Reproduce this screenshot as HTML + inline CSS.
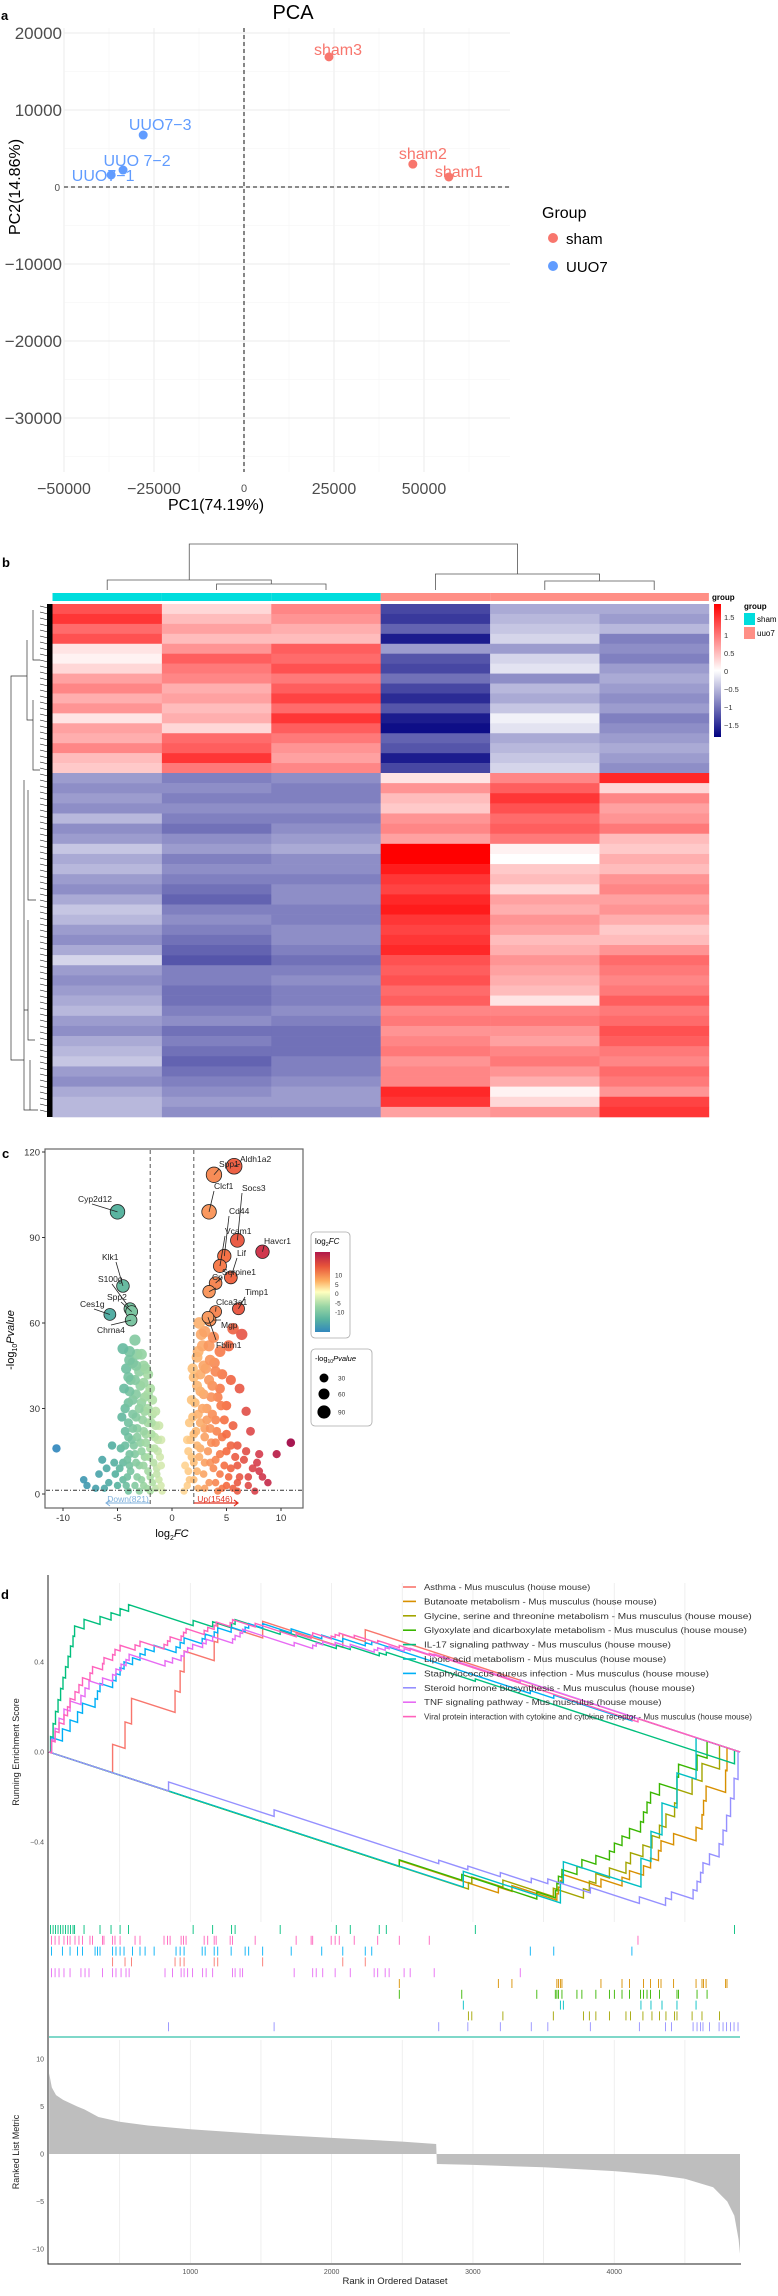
<!DOCTYPE html>
<html><head><meta charset="utf-8">
<style>
html,body{margin:0;padding:0;background:#fff;}
svg{display:block;font-family:"Liberation Sans",sans-serif;}
</style></head>
<body>
<svg id="fig" xmlns="http://www.w3.org/2000/svg" width="778" height="2296" viewBox="0 0 778 2296">
<rect x="0" y="0" width="778" height="2296" fill="#fff"/>
<text x="1" y="20" font-size="13" font-weight="bold">a</text>
<text x="2" y="567" font-size="13" font-weight="bold">b</text>
<text x="2" y="1158" font-size="13" font-weight="bold">c</text>
<text x="1" y="1599" font-size="13" font-weight="bold">d</text>
<g id="pca"></g>
<g id="heat"></g>
<g id="volc"></g>
<g id="gsea"></g>
</svg>
<script>
// ================= PCA data =================
const pcaSamples = ["sham3","sham2","sham1","UUO7-3","UUO 7-2","UUO7-1"];
const pcaPC1 = [23600, 46900, 56900, -28000, -33600, -36900];
const pcaPC2 = [16900, 2970, 1300, 6750, 2200, 1560];
const pcaGroup = ["sham","sham","sham","UUO7","UUO7","UUO7"];
const pcaXTicks = [-50000,-25000,0,25000,50000];
const pcaYTicks = [20000,10000,0,-10000,-20000,-30000];

// ================= Heatmap data =================
const heatCols = ["sham-a","sham-b","sham-c","uuo7-a","uuo7-b","uuo7-c"];
const heatColGroup = ["sham","sham","sham","uuo7","uuo7","uuo7"];
const heatTopC1 = [1.3,1.5,1.1,1.3,0.2,0.1,0.3,0.7,0.9,0.6,0.8,0.2,0.7,0.6,0.9,0.5,0.4];
const heatTopC2 = [0.3,0.5,0.7,0.5,0.8,1.2,1.0,0.9,0.6,0.7,0.5,0.6,0.3,1.1,1.2,1.5,1.0];
const heatTopC3 = [0.9,0.8,0.6,0.5,1.2,1.1,1.3,1.0,1.2,1.4,1.1,1.5,1.2,1.0,0.8,0.7,0.9];
const heatTopC4 = [-1.3,-1.4,-1.1,-1.6,-0.7,-1.2,-1.3,-1.0,-1.3,-1.5,-1.2,-1.6,-1.7,-1.1,-1.2,-1.6,-1.3];
const heatTopC5 = [-0.6,-0.5,-0.4,-0.3,-0.7,-0.3,-0.2,-0.8,-0.5,-0.6,-0.4,-0.1,-0.2,-0.6,-0.5,-0.4,-0.3];
const heatTopC6 = [-0.6,-0.7,-0.5,-0.9,-0.8,-0.9,-0.7,-0.6,-0.7,-0.8,-0.7,-0.9,-0.8,-0.7,-0.6,-0.7,-0.8];
const heatBotC1 = [-0.7,-0.8,-0.7,-0.8,-0.5,-0.8,-0.7,-0.4,-0.6,-0.5,-0.7,-0.8,-0.6,-0.4,-0.5,-0.7,-0.8,-0.6,-0.3,-0.7,-0.8,-0.7,-0.6,-0.5,-0.7,-0.8,-0.6,-0.5,-0.4,-0.7,-0.8,-0.6,-0.5,-0.5];
const heatBotC2 = [-0.9,-0.8,-0.9,-0.8,-0.9,-1.0,-0.8,-0.7,-0.9,-0.8,-0.9,-1.0,-1.1,-0.9,-0.8,-0.9,-1.0,-1.1,-1.2,-0.9,-0.9,-1.0,-1.0,-0.9,-0.8,-1.0,-0.9,-1.0,-1.1,-1.0,-0.9,-0.8,-0.7,-0.8];
const heatBotC3 = [-0.8,-0.9,-0.9,-0.8,-0.9,-0.8,-0.7,-0.6,-0.8,-0.8,-0.9,-0.8,-0.8,-0.9,-0.9,-0.8,-0.8,-0.9,-1.0,-0.9,-0.8,-0.9,-0.9,-0.8,-0.9,-1.0,-1.0,-1.0,-0.9,-0.9,-0.8,-0.7,-0.7,-0.8];
const heatBotC4 = [0.2,0.8,0.5,0.4,0.8,0.9,0.7,1.9,1.9,1.7,1.5,1.4,1.6,1.7,1.5,1.4,1.5,1.6,1.3,1.2,1.3,1.1,1.2,0.9,1.0,0.8,0.9,1.0,0.8,0.9,0.9,1.6,1.5,0.7];
const heatBotC5 = [0.9,1.2,1.5,1.3,1.1,1.2,1.0,0.1,0.0,0.4,0.5,0.3,0.7,0.6,0.8,0.7,0.5,0.6,0.8,0.7,0.6,0.5,0.2,0.9,1.0,0.8,0.7,0.9,1.0,0.8,0.6,0.1,0.3,0.8];
const heatBotC6 = [1.6,0.3,0.9,0.7,0.8,1.0,0.5,0.4,0.6,0.5,0.8,0.9,0.7,0.8,0.6,0.4,0.5,0.8,1.1,1.0,0.9,1.0,1.2,1.0,1.1,1.3,1.2,1.0,0.9,1.1,1.0,0.8,1.4,1.5];
const heatLegendTicks = [1.5,1,0.5,0,-0.5,-1,-1.5];

// ================= Volcano data =================
const volcLabelGenes = ["Aldh1a2","Spp1","Clcf1","Socs3","Havcr1","Cd44","Vcam1","Lif","Serpine1","Ccl2","Timp1","Clca3a1","Mgp","Fblim1","Cyp2d12","Klk1","S100g","Spp2","Ces1g","Chrna4"];
const volcLabelFC = [5.7,3.85,3.4,6.0,8.3,4.8,4.4,5.4,4.0,3.4,6.1,4.0,3.5,3.3,-5.0,-4.5,-3.85,-3.7,-5.7,-3.75];
const volcLabelP = [115,112,99,89,85,83.5,80,76,74,71,65,64,61,62,99,73,65,64,63,61];
const volcCloudFC = [-4.5,-3.4,-3.9,-3.2,-2.8,-3.6,-2.6,-4.2,-3.0,-2.2,-3.8,-2.9,-2.0,-4.4,-3.3,-2.5,-1.8,-4.0,-3.0,-2.2,-1.5,-3.6,-4.6,-2.7,-1.9,-1.2,-3.2,-4.3,-2.4,-1.6,-1.0,-3.7,-2.9,-4.7,-2.0,-1.3,-3.4,-2.5,-4.1,-1.7,-1.0,-3.0,-2.2,-3.8,-5.2,-1.4,-2.8,-4.5,-1.8,-1.0,-3.4,-2.3,-5.8,-6.4,-8.1,-7.8,-5.5,-10.6,-6.7,-0.9,-4.0,
 3.0,2.5,3.8,2.8,4.4,2.3,3.5,5.6,6.4,5.2,3.1,4.6,2.0,5.4,3.7,6.2,2.6,4.2,1.8,5.0,3.2,6.8,2.4,4.0,1.6,5.6,3.0,7.2,2.0,4.6,1.4,3.6,6.0,2.6,5.0,8.0,1.8,4.0,6.6,3.0,1.2,5.4,7.4,2.3,4.4,6.2,8.3,1.6,3.4,5.0,7.0,2.4,1.1,4.2,6.0,9.6,10.9,7.8,8.8];
const volcCloudP = [51,54,50,49,49,46,45,44,43,42,40,38,37,37,35,34,33,32,30,30,29,28,27,26,25,24,23,22,21,20,19,19,18,16,16,15,14,13,12,11,10,10,8,8,7,7,5,5,4,3,3,2,4,12,5,3,17,16,7,1,1,
 57,60,55,52,50,48,47,58,56,52,44,42,41,40,38,37,36,34,33,31,30,29,28,26,25,24,23,22,21,20,19,18,17,16,15,14,13,12,12,11,10,9,9,8,7,6,6,5,4,3,3,2,1,1,1,14,18,11,4];
const volcCloud2FC = [-3.9,-3.3,-2.4,-4.0,-3.4,-2.6,-3.9,-2.2,-3.6,-2.8,-4.3,-2.5,-1.8,-3.3,-4.0,-2.2,-1.5,-3.6,-2.6,-1.9,-4.0,-3.2,-1.3,-2.4,-3.5,-4.3,-1.6,-2.8,-3.9,-1.1,-2.1,-4.5,-3.3,-2.6,-1.4,-3.9,-4.8,-2.0,-3.2,-4.1,-1.2,-5.0,-2.6,-4.2,-1.5,-3.0,-2.0,-6.0,-5.3,-7.0,-6.2,
 2.7,3.4,2.4,3.9,2.9,1.9,4.0,2.6,3.4,2.3,4.4,2.9,3.6,2.1,4.5,2.8,3.7,1.9,3.2,4.8,2.6,3.5,2.2,4.1,5.0,3.0,1.7,4.0,2.3,5.4,3.3,1.5,4.4,2.5,5.8,3.5,2.0,4.8,6.0,3.8,1.5,2.9,5.2,7.0,2.0,4.0,6.0,1.4,3.0,4.6,5.6,7.6,8.0,6.8];
const volcCloud2P = [47,45,44,41,40,39,36,35,33,32,30,29,28,27,25,25,24,23,22,21,20,20,19,18,17,17,16,15,14,13,13,11,11,10,9,10,9,6,6,6,5,3,3,3,2,1,1,9,11,2,2,
 56,52,50,46,45,44,43,42,40,38,37,35,34,32,31,30,28,27,26,26,25,23,22,22,21,20,19,18,17,17,15,15,14,13,13,11,11,10,10,9,8,7,6,6,5,4,4,3,2,2,2,1,8,15];
const volcXTicks = [-10,-5,0,5,10];
const volcYTicks = [0,30,60,90,120];
const volcSizeLegend = [30,60,90];
const volcColorLegend = [10,5,0,-5,-10];

// ================= GSEA data =================
const gseaSetNames = ["Asthma - Mus musculus (house mouse)","Butanoate metabolism - Mus musculus (house mouse)","Glycine, serine and threonine metabolism - Mus musculus (house mouse)","Glyoxylate and dicarboxylate metabolism - Mus musculus (house mouse)","IL-17 signaling pathway - Mus musculus (house mouse)","Lipoic acid metabolism - Mus musculus (house mouse)","Staphylococcus aureus infection - Mus musculus (house mouse)","Steroid hormone biosynthesis - Mus musculus (house mouse)","TNF signaling pathway - Mus musculus (house mouse)","Viral protein interaction with cytokine and cytokine receptor - Mus musculus (house mouse)"];
const gseaColors = ["#F8766D","#D89000","#A3A500","#39B600","#00BF7D","#00BFC4","#00B0F6","#9590FF","#E76BF3","#FF62BC"];
const hitsAsthma = [450,538,584,892,928,956,1169,1194,1512,2079,2238];
const hitsButanoate = [2479,3180,3276,3594,3605,3619,3630,3906,4055,4108,4207,4257,4313,4331,4420,4579,4621,4632,4650,4788,4798];
const hitsGlycine = [2968,2992,3212,3569,3782,3824,3870,3966,4083,4115,4203,4267,4320,4366,4427,4444,4551,4621,4745];
const hitsGlyoxylate = [2479,2921,3452,3583,3594,3605,3630,3736,3771,3870,3966,4001,4055,4108,4186,4207,4232,4257,4320,4444,4455,4586,4657];
const hitsIL17 = [11,29,46,64,82,99,117,135,152,170,181,248,361,439,503,563,1020,1158,1292,1317,1636,2033,2132,2337,2387,3017,4851];
const hitsLipoic = [2932,3619,3640,4189,4260,4338,4444,4579];
const hitsStaph = [18,95,149,202,237,326,343,361,450,474,503,531,591,644,680,744,899,928,956,1084,1105,1169,1194,1289,1388,1413,1512,1714,1930,2079,2238,2284,3406,3572,4125];
const hitsSteroid = [846,1593,2758,2964,3194,3413,3530,3831,4178,4363,4405,4558,4586,4611,4628,4674,4742,4770,4795,4823,4848,4876];
const hitsTNF = [18,43,71,106,149,226,255,283,379,450,474,510,545,567,821,874,935,956,981,1016,1087,1112,1158,1299,1317,1352,1370,1735,1866,1891,1937,2025,2132,2301,2326,2379,2407,2513,2556,2726,3335];
const hitsViral = [18,43,71,106,131,149,184,212,237,290,308,379,389,450,467,503,609,644,814,839,857,935,952,970,1098,1123,1169,1183,1282,1299,1459,1749,1855,1866,1997,2025,2054,2160,2326,2479,2691,4168];
const gseaTickRowOrder = [4,9,6,0,8,1,3,5,2,7];
const metricRanks = [1,20,50,100,200,250,350,500,700,1000,1500,2000,2500,2740,2745,3000,3500,4000,4300,4500,4700,4800,4850,4880,4890];
const metricValues = [8.5,7,6.2,5.7,5,4.7,3.9,3.4,3.0,2.6,2.1,1.7,1.3,1.05,-1.05,-1.15,-1.4,-1.8,-2.2,-2.6,-3.5,-5,-6.5,-9,-10.5];
const gseaNGenes = 4890;
const esTicks = [0.4,0.0,-0.4];
const metricTicks = [10,5,0,-5,-10];
const rankTicks = [1000,2000,3000,4000];
const rankGrid = [500,1000,1500,2000,2500,3000,3500,4000,4500];

const NS="http://www.w3.org/2000/svg";
function mk(parent, tag, attrs, txt){
  const e=document.createElementNS(NS,tag);
  for(const k in attrs) e.setAttribute(k,attrs[k]);
  if(txt!==undefined) e.textContent=txt;
  parent.appendChild(e);
  return e;
}

// ================= PCA =================
(function(){
  const g=document.getElementById('pca');
  const xS=v=>244+v*90/25000, yS=v=>187-v*77/10000;
  const L=64,R=510,T=28,B=472;
  for(let v=-50000; v<=62500; v+=12500){
    const l=mk(g,'line',{x1:xS(v),x2:xS(v),y1:T,y2:B,stroke:v%25000===0?'#ebebeb':'#f4f4f4','stroke-width':v%25000===0?1:0.6});
    
    
  }
  for(let v=-35000; v<=25000; v+=5000){
    const l=mk(g,'line',{x1:L,x2:R,y1:yS(v),y2:yS(v),stroke:v%10000===0?'#ebebeb':'#f4f4f4','stroke-width':v%10000===0?1:0.6});
    
    
  }
  let d=mk(g,'line',{x1:xS(0),x2:xS(0),y1:T,y2:B,stroke:'#444','stroke-width':1.3,'stroke-dasharray':'4,3'});
  
  
  d=mk(g,'line',{x1:L,x2:R,y1:yS(0),y2:yS(0),stroke:'#444','stroke-width':1.3,'stroke-dasharray':'4,3'});
  
  
  pcaXTicks.forEach(v=>{
    const t=mk(g,'text',{x:xS(v),y:v===0?492:494,'font-size':v===0?11:16,'text-anchor':'middle',fill:'#4d4d4d'},v===0?'0':String(v).replace('-','\u2212'));
    
    
  });
  pcaYTicks.forEach(v=>{
    const t=mk(g,'text',{x:v===0?60:62,y:yS(v)+(v===0?4:6),'font-size':v===0?10:17,'text-anchor':'end',fill:'#4d4d4d'},String(v).replace('-','\u2212'));
    
    
  });
  let t=mk(g,'text',{x:293,y:19,'font-size':20,'text-anchor':'middle'},'PCA');
  
  
  t=mk(g,'text',{x:216,y:510,'font-size':16,'text-anchor':'middle'},'PC1(74.19%)');
  
  
  t=mk(g,'text',{x:20,y:187,'font-size':16,'text-anchor':'middle',transform:'rotate(-90 20 187)'},'PC2(14.86%)');
  
  
  const col={sham:'#F8766D',UUO7:'#619CFF'};
  const lblOff=[[9,-2],[10,-5],[10,0],[17,-5],[14,-4],[-8,6]];
  pcaSamples.forEach((s,i)=>{
    const c=mk(g,'circle',{cx:xS(pcaPC1[i]),cy:yS(pcaPC2[i]),r:4.5,fill:col[pcaGroup[i]]});
    
    
    const tt=mk(g,'text',{x:xS(pcaPC1[i])+lblOff[i][0],y:yS(pcaPC2[i])+lblOff[i][1],'font-size':16,'text-anchor':'middle',fill:col[pcaGroup[i]]},s.replace('-','\u2212'));
    
    
  });
  t=mk(g,'text',{x:542,y:218,'font-size':16},'Group');
  
  
  [['sham',238],['UUO7',266]].forEach(([k,y])=>{
    const c=mk(g,'circle',{cx:553,cy:y,r:5,fill:col[k]});
    
    
    const tx=mk(g,'text',{x:566,y:y+6,'font-size':15},k);
    
    
  });
})();

// ================= Heatmap =================
(function(){
  const g=document.getElementById('heat');
  const X0=52.5, CW=109.4, T=604, S=773, B=1117;
  function hcol(v){
    const lerp=(a,b,t)=>Math.round(a+(b-a)*t);
    if(v>=0){const t=Math.min(v/1.9,1);return `rgb(255,${lerp(255,0,t)},${lerp(255,0,t)})`;}
    const t=Math.min(-v/1.8,1);return `rgb(${lerp(255,0,t)},${lerp(255,0,t)},${lerp(255,128,t)})`;
  }
  const tops=[heatTopC1,heatTopC2,heatTopC3,heatTopC4,heatTopC5,heatTopC6];
  const bots=[heatBotC1,heatBotC2,heatBotC3,heatBotC4,heatBotC5,heatBotC6];
  tops.forEach((arr,ci)=>{
    const h=(S-T)/arr.length;
    arr.forEach((v,ri)=>{
      const r=mk(g,'rect',{x:X0+ci*CW,y:T+ri*h,width:CW+0.3,height:h+0.3,fill:hcol(v)});
      
      
    });
  });
  bots.forEach((arr,ci)=>{
    const h=(B-S)/arr.length;
    arr.forEach((v,ri)=>{
      const r=mk(g,'rect',{x:X0+ci*CW,y:S+ri*h,width:CW+0.3,height:h+0.3,fill:hcol(v)});
      
      
    });
  });
  heatCols.forEach((c,ci)=>{
    const r=mk(g,'rect',{x:X0+ci*CW,y:593,width:CW,height:8,fill:heatColGroup[ci]==='sham'?'#00DDDD':'#FF8F86'});
    
    
  });
  const cx=i=>X0+CW*(i+0.5);
  const dpath=`M${cx(1)},590 V584 H${cx(2)} V590 M${cx(0)},590 V580 H${(cx(1)+cx(2))/2} V584 M${cx(4)},590 V581 H${cx(5)} V590 M${cx(3)},590 V574 H${(cx(4)+cx(5))/2} V581 M${(cx(0)+(cx(1)+cx(2))/2)/2},580 V544 H${(cx(3)+(cx(4)+cx(5))/2)/2} V574`;
  let p=mk(g,'path',{d:dpath,fill:'none',stroke:'#555','stroke-width':0.8});
  
  
  let rd='M11,800 V676 H27 M11,800 V1060 H24 M27,640 V720 H33 M24,990 V1110 H30 M24,780 V1010 H28 M33,610 V660 H40 M33,700 V770 H40 M28,790 V900 H36 M28,920 V1040 H35 M30,1060 V1110 H38';
  p=mk(g,'path',{d:rd,fill:'none',stroke:'#333','stroke-width':0.7});
  
  
  for(let y=606;y<1116;y+=6){
    const l=mk(g,'line',{x1:40,x2:52,y1:y,y2:y+3,stroke:'#000','stroke-width':0.6});
    
    
  }
  p=mk(g,'rect',{x:47,y:604,width:5.5,height:513,fill:'#000'});
  
  
  const defs=mk(g,'defs',{});
  const lg=mk(defs,'linearGradient',{id:'hg',x1:0,y1:0,x2:0,y2:1});
  mk(lg,'stop',{offset:'0','stop-color':'#ff0000'});
  mk(lg,'stop',{offset:'0.5','stop-color':'#ffffff'});
  mk(lg,'stop',{offset:'1','stop-color':'#000080'});
  let r=mk(g,'rect',{x:714,y:604,width:7,height:133,fill:'url(#hg)'});
  
  
  let t=mk(g,'text',{x:712,y:600,'font-size':8,'font-weight':'bold'},'group');
  
  
  heatLegendTicks.forEach(v=>{
    const tt=mk(g,'text',{x:724,y:671-v*36+3,'font-size':7.5,fill:'#333'},String(v).replace('-','\u2212'));
    
    
  });
  t=mk(g,'text',{x:744,y:609,'font-size':8,'font-weight':'bold'},'group');
  
  
  [['sham','#00DDDD',613],['uuo7','#FF8F86',627]].forEach(([k,c,y])=>{
    const rr=mk(g,'rect',{x:744,y:y,width:11,height:12,fill:c});
    
    
    const tt=mk(g,'text',{x:757,y:y+9,'font-size':8},k);
    
    
  });
})();

// ================= Volcano =================
(function(){
  const g=document.getElementById('volc');
  const xS=v=>172+v*10.9, yS=v=>1494-v*2.85;
  const rS=p=>3.6+p*0.037;
  function vcol(fc){
    const stops=[[-10,[50,136,189]],[-5,[90,180,160]],[-2,[171,221,164]],[0,[255,245,190]],[2,[253,190,120]],[5,[244,109,67]],[8,[213,62,79]],[11,[158,1,66]]];
    fc=Math.max(-10,Math.min(11,fc));
    for(let i=0;i<stops.length-1;i++){
      const [a,ca]=stops[i],[b,cb]=stops[i+1];
      if(fc<=b){const t=(fc-a)/(b-a);return `rgb(${ca.map((c,j)=>Math.round(c+(cb[j]-c)*t)).join(',')})`;}
    }
    return 'rgb(158,1,66)';
  }
  let fr=mk(g,'rect',{x:45,y:1149,width:258,height:359,fill:'#fff',stroke:'#666','stroke-width':1.2});
  
  
  const allFC=volcCloudFC.concat(volcCloud2FC), allP=volcCloudP.concat(volcCloud2P);
  const idx=allFC.map((_,i)=>i).sort((a,b)=>allP[a]-allP[b]);
  idx.forEach(i=>{
    const c=mk(g,'circle',{cx:xS(allFC[i]),cy:yS(allP[i]),r:rS(allP[i]),fill:vcol(allFC[i]),'fill-opacity':0.92});
    
    
  });
  [-2,2].forEach(v=>{
    const l=mk(g,'line',{x1:xS(v),x2:xS(v),y1:1150,y2:1507,stroke:'#555','stroke-width':1,'stroke-dasharray':'4,3'});
    
    
  });
  let l=mk(g,'line',{x1:46,x2:302,y1:yS(1.3),y2:yS(1.3),stroke:'#333','stroke-width':1,'stroke-dasharray':'4,2,1,2'});
  
  
  const lblPos={Aldh1a2:[240,1162],Spp1:[219,1167],Clcf1:[214,1189],Socs3:[242,1191],Havcr1:[264,1244],Cd44:[229,1214],Vcam1:[225,1234],Lif:[237,1256],Serpine1:[222,1275],Ccl2:[216,1286],Timp1:[245,1295],Clca3a1:[216,1305],Mgp:[221,1328],Fblim1:[216,1348],Cyp2d12:[78,1202],Klk1:[102,1260],S100g:[98,1282],Spp2:[107,1300],Ces1g:[80,1307],Chrna4:[97,1333]};
  volcLabelGenes.forEach((gname,i)=>{
    const x=xS(volcLabelFC[i]), y=yS(volcLabelP[i]);
    const c=mk(g,'circle',{cx:x,cy:y,r:rS(volcLabelP[i]),fill:vcol(volcLabelFC[i]),stroke:'#222','stroke-width':0.8});
    
    
    const p=lblPos[gname];
    const ln=mk(g,'line',{x1:x,y1:y,x2:p[0]+(volcLabelFC[i]<0?14:0),y2:p[1]+(p[1]<y?2:-8),stroke:'#222','stroke-width':0.8});
    
    
    if(gname!=='Ccl2'){
      const t=mk(g,'text',{x:p[0],y:p[1],'font-size':8.5,fill:'#222'},gname);
      
      
    } else {
      const t=mk(g,'text',{x:p[0]-4,y:p[1]-6,'font-size':8.5,fill:'#222'},'Cp');
      
      
    }
  });
  volcXTicks.forEach(v=>{
    const tk=mk(g,'line',{x1:xS(v),x2:xS(v),y1:1508,y2:1511,stroke:'#333'});
    
    
    const t=mk(g,'text',{x:xS(v),y:1521,'font-size':9.5,'text-anchor':'middle',fill:'#333'},String(v));
    
    
  });
  volcYTicks.forEach(v=>{
    const tk=mk(g,'line',{x1:42,x2:45,y1:yS(v),y2:yS(v),stroke:'#333'});
    
    
    const t=mk(g,'text',{x:40,y:yS(v)+3.5,'font-size':9.5,'text-anchor':'end',fill:'#333'},String(v));
    
    
  });
  let t=mk(g,'text',{x:172,y:1537,'font-size':11,'text-anchor':'middle'});
  t.innerHTML='log<tspan font-size="7" dy="3">2</tspan><tspan dy="-3" font-style="italic">FC</tspan>';
  
  
  t=mk(g,'text',{x:14,y:1340,'font-size':11,'text-anchor':'middle',transform:'rotate(-90 14 1340)'});
  t.innerHTML='-log<tspan font-size="7" dy="3">10</tspan><tspan dy="-3" font-style="italic">Pvalue</tspan>';
  
  
  t=mk(g,'text',{x:128,y:1502,'font-size':8.5,'text-anchor':'middle',fill:'#7fb0dc'},'Down(821)');
  
  
  l=mk(g,'path',{d:'M150,1503 H106 M110,1500 L106,1503 L110,1506',fill:'none',stroke:'#7fb0dc','stroke-width':1});
  
  
  t=mk(g,'text',{x:215,y:1502,'font-size':8.5,'text-anchor':'middle',fill:'#e03020'},'Up(1546)');
  
  
  l=mk(g,'path',{d:'M194,1503 H238 M234,1500 L238,1503 L234,1506',fill:'none',stroke:'#e03020','stroke-width':1.2});
  
  
  let b=mk(g,'rect',{x:311,y:1232,width:39,height:106,rx:4,fill:'#fff',stroke:'#aaa','stroke-width':0.8});
  
  
  t=mk(g,'text',{x:315,y:1244,'font-size':8});
  t.innerHTML='log<tspan font-size="5.5" dy="2">2</tspan><tspan dy="-2" font-style="italic">FC</tspan>';
  
  
  const defs=mk(g,'defs',{});
  const lg=mk(defs,'linearGradient',{id:'vg',x1:0,y1:0,x2:0,y2:1});
  [[0,'#b0184a'],[0.18,'#e8553a'],[0.36,'#fdae61'],[0.5,'#ffffbf'],[0.68,'#99d5a4'],[0.84,'#5ab4a0'],[1,'#3288bd']].forEach(([o,c])=>mk(lg,'stop',{offset:o,'stop-color':c}));
  b=mk(g,'rect',{x:315,y:1252,width:15,height:80,fill:'url(#vg)'});
  
  
  volcColorLegend.forEach(v=>{
    const tt=mk(g,'text',{x:335,y:1293-v*1.85+3,'font-size':6.5,fill:'#333'},String(v));
    
    
  });
  b=mk(g,'rect',{x:311,y:1349,width:61,height:77,rx:4,fill:'#fff',stroke:'#aaa','stroke-width':0.8});
  
  
  t=mk(g,'text',{x:315,y:1361,'font-size':7.5});
  t.innerHTML='-log<tspan font-size="5" dy="2">10</tspan><tspan dy="-2" font-style="italic">Pvalue</tspan>';
  
  
  const ys=[1378,1394,1412];
  volcSizeLegend.forEach((v,i)=>{
    const c=mk(g,'circle',{cx:324,cy:ys[i],r:rS(v)*0.95,fill:'#000'});
    
    
    const tt=mk(g,'text',{x:338,y:ys[i]+2.5,'font-size':6.5,fill:'#333'},String(v));
    
    
  });
})();

// ================= GSEA =================
(function(){
  const g=document.getElementById('gsea');
  const X0=49, XR=740;
  const xS=r=>X0+(r/gseaNGenes)*(XR-X0);
  const esY=v=>1752-v*225;
  const mY=v=>2154-v*9.5;
  function metricAt(r){
    for(let i=0;i<metricRanks.length-1;i++){
      if(r<=metricRanks[i+1]){const t=(r-metricRanks[i])/(metricRanks[i+1]-metricRanks[i]);return metricValues[i]+(metricValues[i+1]-metricValues[i])*t;}
    }
    return metricValues[metricValues.length-1];
  }
  rankGrid.forEach(r=>{
    const l=mk(g,'line',{x1:xS(r),x2:xS(r),y1:1583,y2:1922,stroke:'#ebebeb','stroke-width':0.8});
    
    
    const l2=mk(g,'line',{x1:xS(r),x2:xS(r),y1:2040,y2:2263,stroke:'#ebebeb','stroke-width':0.8});
    
    
  });
  let d=`M${xS(metricRanks[0])},${mY(0)}`;
  metricRanks.forEach((r,i)=>{ d+=` L${xS(r)},${mY(metricValues[i])}`; });
  d+=` L${xS(metricRanks[metricRanks.length-1])},${mY(0)} Z`;
  let p=mk(g,'path',{d:d,fill:'#bebebe',stroke:'none'});
  
  
  const hitSets=[hitsAsthma,hitsButanoate,hitsGlycine,hitsGlyoxylate,hitsIL17,hitsLipoic,hitsStaph,hitsSteroid,hitsTNF,hitsViral];
  hitSets.forEach((hits,si)=>{
    const NR=hits.reduce((s,h)=>s+Math.abs(metricAt(h)),0);
    const miss=1/(gseaNGenes-hits.length);
    let es=0, prev=0;
    let dd=`M${xS(0)},${esY(0)}`;
    hits.forEach(h=>{
      es-= (h-prev-1)*miss;
      dd+=` L${xS(h)},${esY(es)}`;
      es+= Math.abs(metricAt(h))/NR;
      dd+=` L${xS(h)},${esY(es)}`;
      prev=h;
    });
    es-=(gseaNGenes-prev)*miss;
    dd+=` L${xS(gseaNGenes)},${esY(es)}`;
    const pl=mk(g,'path',{d:dd,fill:'none',stroke:gseaColors[si],'stroke-width':1.4});
    
    
  });
  gseaTickRowOrder.forEach((si,row)=>{
    const y=1925+row*10.8;
    hitSets[si].forEach(h=>{
      const l=mk(g,'line',{x1:xS(h),x2:xS(h),y1:y,y2:y+9,stroke:gseaColors[si],'stroke-width':0.9});
      
      
    });
  });
  let l=mk(g,'line',{x1:X0,x2:XR,y1:2037,y2:2037,stroke:'#7fd8c9','stroke-width':2});
  
  
  l=mk(g,'line',{x1:48,x2:48,y1:1575,y2:2040,stroke:'#222','stroke-width':1});
  
  
  l=mk(g,'path',{d:'M48,2040 V2264 H741',fill:'none',stroke:'#222','stroke-width':1});
  
  
  esTicks.forEach(v=>{
    const t=mk(g,'text',{x:44,y:esY(v)+2.5,'font-size':7,'text-anchor':'end',fill:'#555'},v.toFixed(1).replace('-','\u2212'));
    
    
  });
  metricTicks.forEach(v=>{
    const t=mk(g,'text',{x:44,y:mY(v)+2.5,'font-size':7,'text-anchor':'end',fill:'#555'},String(v).replace('-','\u2212'));
    
    
  });
  rankTicks.forEach(v=>{
    const t=mk(g,'text',{x:xS(v),y:2274,'font-size':7,'text-anchor':'middle',fill:'#555'},String(v));
    
    
  });
  let t=mk(g,'text',{x:395,y:2284,'font-size':9.5,'text-anchor':'middle',fill:'#222'},'Rank in Ordered Dataset');
  
  
  t=mk(g,'text',{x:19,y:1752,'font-size':9,'text-anchor':'middle',fill:'#222',transform:'rotate(-90 19 1752)'},'Running Enrichment Score');
  
  
  t=mk(g,'text',{x:19,y:2152,'font-size':9,'text-anchor':'middle',fill:'#222',transform:'rotate(-90 19 2152)'},'Ranked List Metric');
  
  
  gseaSetNames.forEach((n,i)=>{
    const y=1587+i*14.4;
    const ll=mk(g,'line',{x1:403,x2:416,y1:y,y2:y,stroke:gseaColors[i],'stroke-width':1.6});
    
    
    const tt=mk(g,'text',{x:424,y:y+3,'font-size':8,fill:'#333','textLength':n.length*4.75>330?328:n.length*4.75,'lengthAdjust':'spacingAndGlyphs'},n);
    
    
  });
})();
</script>
</body></html>
